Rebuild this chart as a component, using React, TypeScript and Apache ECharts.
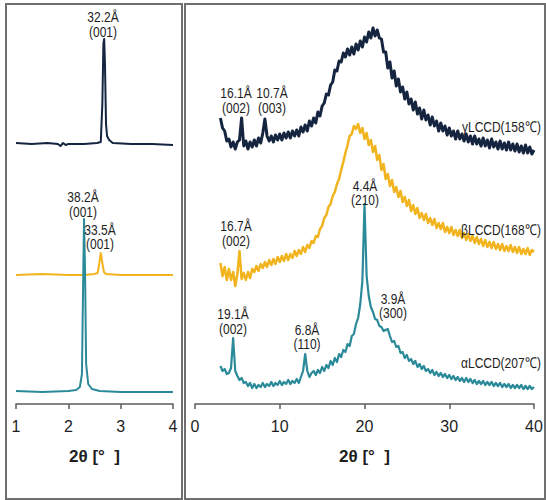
import React, { useEffect, useRef } from "react";
import * as echarts from "echarts";

// ---------- DATA ----------
// Left panel (small angle), 2θ in degrees and intensity (a.u., offset traces)
const gammaLeftTheta = [1.0, 1.3, 1.6, 1.8, 1.85, 1.9, 1.95, 2.0, 2.3, 2.55, 2.62, 2.65, 2.67, 2.685, 2.7, 2.72, 2.74, 2.78, 2.85, 3.2, 3.6, 4.0];
const gammaLeftI = [261, 260, 261, 260, 258, 261, 259, 260, 260, 261, 262, 300, 360, 365, 340, 280, 268, 264, 261, 260, 260, 259];

const betaLeftTheta = [1.0, 1.5, 2.0, 2.3, 2.5, 2.56, 2.59, 2.62, 2.65, 2.68, 2.72, 3.0, 3.5, 4.0];
const betaLeftI = [129, 130, 129, 129, 130, 131, 140, 151, 141, 132, 130, 129, 129, 129];

const alphaLeftTheta = [1.0, 1.5, 2.0, 2.15, 2.22, 2.26, 2.28, 2.3, 2.32, 2.34, 2.38, 2.45, 2.6, 3.0, 3.5, 4.0];
const alphaLeftI = [13, 12, 13, 14, 17, 30, 110, 185, 130, 40, 20, 15, 13, 12, 12, 12];

// Right panel (wide angle): samples every 0.25° from 3° to 40°
const RIGHT_START = 3;
const RIGHT_STEP = 0.25;
const gammaRight = [
  286, 276, 273, 263,
  265, 257, 262, 255,
  262, 264, 286, 258,
  263, 255, 262, 257,
  264, 258, 266, 261,
  271, 285, 268, 263,
  268, 262, 269, 264,
  270, 264, 271, 266,
  272, 266, 273, 268,
  274, 268, 277, 272,
  279, 273, 283, 278,
  286, 281, 292, 288,
  298, 301, 310, 309,
  319, 322, 334, 333,
  343, 342, 351, 347,
  355, 349, 357, 350,
  360, 354, 363, 357,
  367, 362, 372, 366,
  376, 368, 374, 366,
  365, 352, 352, 336,
  342, 326, 333, 318,
  325, 312, 317, 305,
  312, 300, 305, 294,
  302, 290, 296, 285,
  294, 284, 289, 279,
  287, 278, 283, 273,
  281, 273, 278, 269,
  276, 268, 273, 265,
  273, 265, 270, 263,
  270, 262, 268, 260,
  268, 260, 265, 258,
  266, 258, 264, 256,
  265, 257, 262, 255,
  263, 255, 261, 254,
  262, 254, 260, 253,
  260, 252, 258, 251,
  259, 251, 257, 250,
  254,
];
const betaRight = [
  141, 128, 137, 124,
  135, 124, 132, 118,
  130, 153, 125, 131,
  124, 132, 126, 135,
  132, 138, 133, 140,
  136, 142, 137, 144,
  139, 145, 140, 147,
  142, 148, 143, 150,
  144, 150, 146, 153,
  148, 154, 150, 157,
  152, 159, 156, 163,
  161, 168, 167, 175,
  178, 186, 189, 197,
  200, 208, 212, 220,
  225, 234, 242, 251,
  259, 268, 270, 278,
  275, 280, 271, 276,
  265, 271, 259, 264,
  252, 258, 244, 249,
  234, 240, 225, 230,
  218, 224, 212, 217,
  207, 213, 202, 207,
  198, 204, 193, 199,
  190, 196, 186, 191,
  184, 190, 181, 186,
  179, 185, 176, 181,
  175, 181, 172, 177,
  171, 177, 169, 174,
  168, 174, 166, 171,
  164, 170, 163, 168,
  161, 167, 160, 165,
  158, 164, 157, 162,
  156, 162, 155, 160,
  154, 160, 153, 158,
  153, 159, 152, 157,
  151, 157, 150, 155,
  150, 156, 149, 154,
  152,
];
const alphaRight = [
  38, 33, 35, 30,
  31, 36, 66, 33,
  28, 24, 26, 21,
  22, 18, 21, 16,
  20, 16, 19, 17,
  21, 17, 20, 18,
  22, 18, 21, 19,
  23, 19, 22, 20,
  24, 20, 23, 21,
  25, 21, 27, 33,
  50, 33, 27, 31,
  33, 29, 34, 31,
  37, 33, 39, 36,
  43, 39, 46, 42,
  50, 47, 54, 52,
  60, 58, 68, 70,
  80, 86, 100, 123,
  200, 128, 108, 97,
  92, 85, 84, 78,
  77, 73, 74, 75,
  68, 62, 63, 57,
  58, 51, 52, 46,
  49, 43, 45, 40,
  43, 37, 40, 35,
  38, 33, 35, 31,
  34, 29, 32, 28,
  31, 27, 30, 26,
  29, 25, 28, 24,
  27, 23, 26, 22,
  26, 22, 25, 21,
  24, 20, 23, 20,
  23, 19, 22, 19,
  22, 18, 21, 18,
  21, 17, 20, 17,
  20, 16, 19, 16,
  19, 16, 19, 15,
  18, 15, 18, 15,
  17,
];

const seriesNames = ["γLCCD(158℃)", "βLCCD(168℃)", "αLCCD(207℃)"];
const axisTitle = "2θ [°  ]";

// peak annotations: [text line 1, text line 2]
const leftNotes = [
  ["32.2Å", "(001)"],
  ["38.2Å", "(001)"],
  ["33.5Å", "(001)"],
];
const rightNotes = [
  ["16.1Å", "(002)"],
  ["10.7Å", "(003)"],
  ["16.7Å", "(002)"],
  ["4.4Å", "(210)"],
  ["19.1Å", "(002)"],
  ["6.8Å", "(110)"],
  ["3.9Å", "(300)"],
];

// ---------- STYLE ----------
const COLORS = ["#15243f", "#f2b41e", "#2b8a99"];
const FONT = "'Liberation Sans', Arial, sans-serif";
const TEXT_COLOR = "#1e1e1e";
const NARROW = 0.8;

const zip = (t: number[], v: number[]) => t.map((x, i) => [x, v[i]]);
const gridRight = (v: number[]) => v.map((y, i) => [RIGHT_START + i * RIGHT_STEP, y]);

export default function App() {
  const ref = useRef<HTMLDivElement>(null);
  useEffect(() => {
    if (!ref.current) return;
    const chart = echarts.init(ref.current, undefined, { renderer: "svg" });

    const axisCommon = (min: number, max: number, interval: number, gridIndex: number) => ({
      type: "value",
      gridIndex,
      min,
      max,
      interval,
      splitLine: { show: false },
      axisLine: { show: true, lineStyle: { color: "#5c5c5c", width: 1.5 } },
      axisTick: { show: true, inside: false, length: 5, lineStyle: { color: "#5c5c5c", width: 1.5 } },
      axisLabel: { color: TEXT_COLOR, fontSize: 16, fontFamily: FONT, margin: 14 },
      name: axisTitle,
      nameLocation: "middle",
      nameGap: 44,
      nameTextStyle: { color: TEXT_COLOR, fontSize: 17, fontWeight: "bold", fontFamily: FONT },
    });

    const noteText = (text: string, x: number, y: number, align = "center") => ({
      type: "text",
      x,
      y,
      scaleX: NARROW,
      silent: true,
      z: 10,
      style: {
        text,
        fontSize: 15,
        fontFamily: FONT,
        fill: TEXT_COLOR,
        align,
        verticalAlign: "middle",
      },
    });

    const leftPos = [
      [103, 17, 32],
      [83, 197, 212],
      [100, 230, 244],
    ];
    const rightPos = [
      [236, 93, 108],
      [272, 93, 108],
      [236, 226, 241],
      [365, 186, 200],
      [233, 314, 329],
      [307, 330, 344],
      [393, 299, 313],
    ];
    const labelPos = [
      [541, 127],
      [541, 230],
      [541, 363],
    ];

    const graphics: any[] = [
      { type: "rect", shape: { x: 6, y: 4, width: 176, height: 495 }, style: { fill: "none", stroke: "#6f6f6f", lineWidth: 2 }, silent: true },
      { type: "rect", shape: { x: 185, y: 4, width: 360, height: 495 }, style: { fill: "none", stroke: "#6f6f6f", lineWidth: 2 }, silent: true },
    ];
    leftNotes.forEach((n, i) => {
      graphics.push(noteText(n[0], leftPos[i][0], leftPos[i][1]));
      graphics.push(noteText(n[1], leftPos[i][0], leftPos[i][2]));
    });
    rightNotes.forEach((n, i) => {
      graphics.push(noteText(n[0], rightPos[i][0], rightPos[i][1]));
      graphics.push(noteText(n[1], rightPos[i][0], rightPos[i][2]));
    });
    seriesNames.forEach((s, i) => graphics.push(noteText(s, labelPos[i][0], labelPos[i][1], "right")));

    const line = (data: number[][], idx: number, color: string, width: number) => ({
      type: "line",
      xAxisIndex: idx,
      yAxisIndex: idx,
      data,
      showSymbol: false,
      symbol: "none",
      smooth: false,
      lineStyle: { color, width, join: "round" },
      z: 2,
    });

    chart.setOption({
      animation: false,
      backgroundColor: "#ffffff",
      grid: [
        { left: 16, right: 373, top: 4, bottom: 96 },
        { left: 195, right: 12, top: 4, bottom: 96 },
      ],
      xAxis: [axisCommon(1, 4, 1, 0), axisCommon(0, 40, 10, 1)],
      yAxis: [
        { type: "value", gridIndex: 0, min: 0, max: 400, show: false },
        { type: "value", gridIndex: 1, min: 0, max: 400, show: false },
      ],
      series: [
        line(zip(gammaLeftTheta, gammaLeftI), 0, COLORS[0], 2),
        line(zip(betaLeftTheta, betaLeftI), 0, COLORS[1], 2),
        line(zip(alphaLeftTheta, alphaLeftI), 0, COLORS[2], 2),
        line(gridRight(gammaRight), 1, COLORS[0], 3),
        line(gridRight(betaRight), 1, COLORS[1], 2.5),
        line(gridRight(alphaRight), 1, COLORS[2], 2.2),
      ],
      graphic: graphics,
    });
    return () => chart.dispose();
  }, []);

  return (
    <div
      ref={ref}
      style={{ position: "fixed", left: 0, top: 0, width: 546, height: 500, background: "#fff" }}
    />
  );
}
